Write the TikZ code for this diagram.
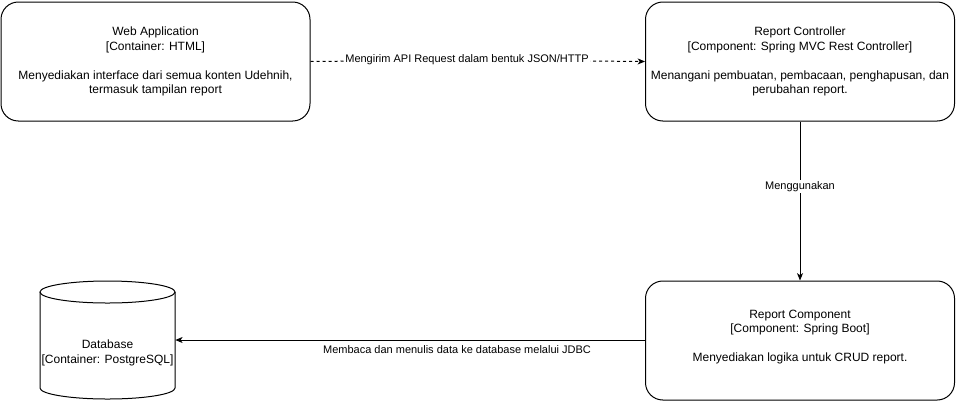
\documentclass[tikz,border=0pt]{standalone}
\usepackage{fontspec}
\setmainfont{Liberation Sans}
\usetikzlibrary{arrows.meta}
\begin{document}
\begin{tikzpicture}[x=0.75pt,y=-0.75pt,
  box/.style={draw=black, line width=0.75pt, rounded corners=13pt, minimum width=231.75pt, minimum height=89.25pt, align=center, font=\fontsize{9}{10.9}\selectfont, inner sep=0pt},
  lbl/.style={fill=white, inner sep=1pt, font=\fontsize{8.25}{10}\selectfont},
  conn/.style={line width=0.75pt, -{Stealth[length=5.5pt,width=4.5pt,inset=1.5pt]}}]
\useasboundingbox (0,0) rectangle (956,401);
\node[box] (web) at (155.5,61.5) {Web Application\\\relax[Container: HTML]\\[10.9pt]Menyediakan interface dari semua konten Udehnih,\\termasuk tampilan report};
\node[box] (ctrl) at (800,61.5) {Report Controller\\\relax[Component: Spring MVC Rest Controller]\\[10.9pt]Menangani pembuatan, pembacaan, penghapusan, dan\\perubahan report.};
\node[box] (comp) at (800,340.5) {};
\node[align=center, font=\fontsize{9}{10.9}\selectfont] (comptxt) at (800,337) {Report Component\\\relax[Component: Spring Boot]\\[10.9pt]Menyediakan logika untuk CRUD report.};
% database cylinder
\draw[line width=0.75pt, fill=white] (40,292) -- (40,388) arc[start angle=180, end angle=360, x radius=50.625pt, y radius=8.25pt] -- (175,292);
\draw[line width=0.75pt] (107.5,292) ellipse [x radius=50.625pt, y radius=8.25pt];
\node[minimum width=101.25pt, minimum height=88.5pt, inner sep=0pt, align=center, font=\fontsize{9}{10.9}\selectfont] (db) at (107.5,340) {};
\node[align=center, font=\fontsize{9}{10.9}\selectfont] (dbtxt) at (107.5,353) {Database\\\relax[Container: PostgreSQL]};
\coordinate (mid1) at (467,60);
\draw[line width=0.75pt, dash pattern=on 2.25pt off 2.25pt] (web.east) -- (mid1);
\draw[conn, dash pattern=on 2.25pt off 2.25pt] (mid1) -- (ctrl.west);
\node[lbl] (api) at (mid1) {Mengirim API Request dalam bentuk JSON/HTTP};
\draw[conn] (ctrl.south) -- node[lbl, pos=0.41] {Menggunakan} (comp.north);
\draw[conn] (comp.west |- db.east) -- (db.east);
\node[lbl, fill=none] (jdbc) at (457,350) {Membaca dan menulis data ke database melalui JDBC};
\end{tikzpicture}
\end{document}
